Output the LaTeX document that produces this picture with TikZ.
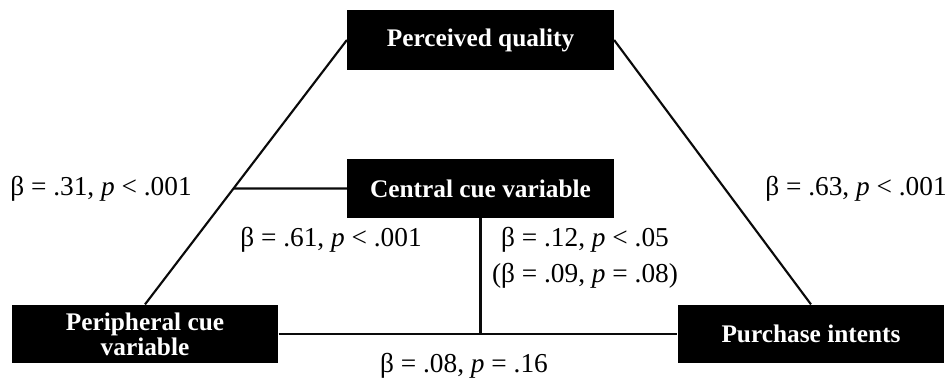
\documentclass[tikz,border=0pt]{standalone}
\usepackage{fontspec}
\setmainfont{Liberation Serif}
\usepackage{tikz}
\usetikzlibrary{calc}
\definecolor{boxblack}{RGB}{0,0,0}
\definecolor{linedark}{RGB}{10,10,10}
\tikzset{
  varbox/.style={rectangle, fill=boxblack, text=white, align=center,
    minimum width=200pt, minimum height=44pt, inner sep=2pt,
    font=\fontsize{19}{19}\selectfont\bfseries},
  link/.style={line width=1.6pt, color=linedark},
  coef/.style={font=\fontsize{20.5}{23}\selectfont, inner sep=0pt}
}

\begin{document}
\begin{tikzpicture}[x=0.75pt, y=-0.75pt]
\useasboundingbox (0,0) rectangle (949,381);
% variables
\node[varbox, minimum height=45pt] (pq) at (480.5,40) {Perceived quality};
\node[varbox] (cc) at (480.5,188.5) {Central cue variable};
\node[varbox] (per) at (145,334) {Peripheral cue\\variable};
\node[varbox] (pi) at (811,334) {Purchase intents};
% paths
\draw[link] (per.north) -- (pq.west);
\draw[link] (pq.east) -- (pi.north);
\coordinate (join) at (intersection of per.north--pq.west and cc.west--cc.east);
\draw[link] (join) -- (cc.west);
\coordinate (foot) at (cc.south |- per.east);
\draw[link] (cc.south) -- (foot);
\draw[link] (per.east) -- (pi.west);
% coefficients
\node[coef] (b31) at (101,189) {β = .31, \textit{p} < .001};
\node[coef] (b61) at (331,240) {β = .61, \textit{p} < .001};
\node[coef] (b12) at (585,240) {β = .12, \textit{p} < .05};
\node[coef] (b09) at (585,276) {(β = .09, \textit{p} = .08)};
\node[coef] (b63) at (856,189) {β = .63, \textit{p} < .001};
\node[coef] (b08) at (464,366) {β = .08, \textit{p} = .16};
\end{tikzpicture}
\end{document}
